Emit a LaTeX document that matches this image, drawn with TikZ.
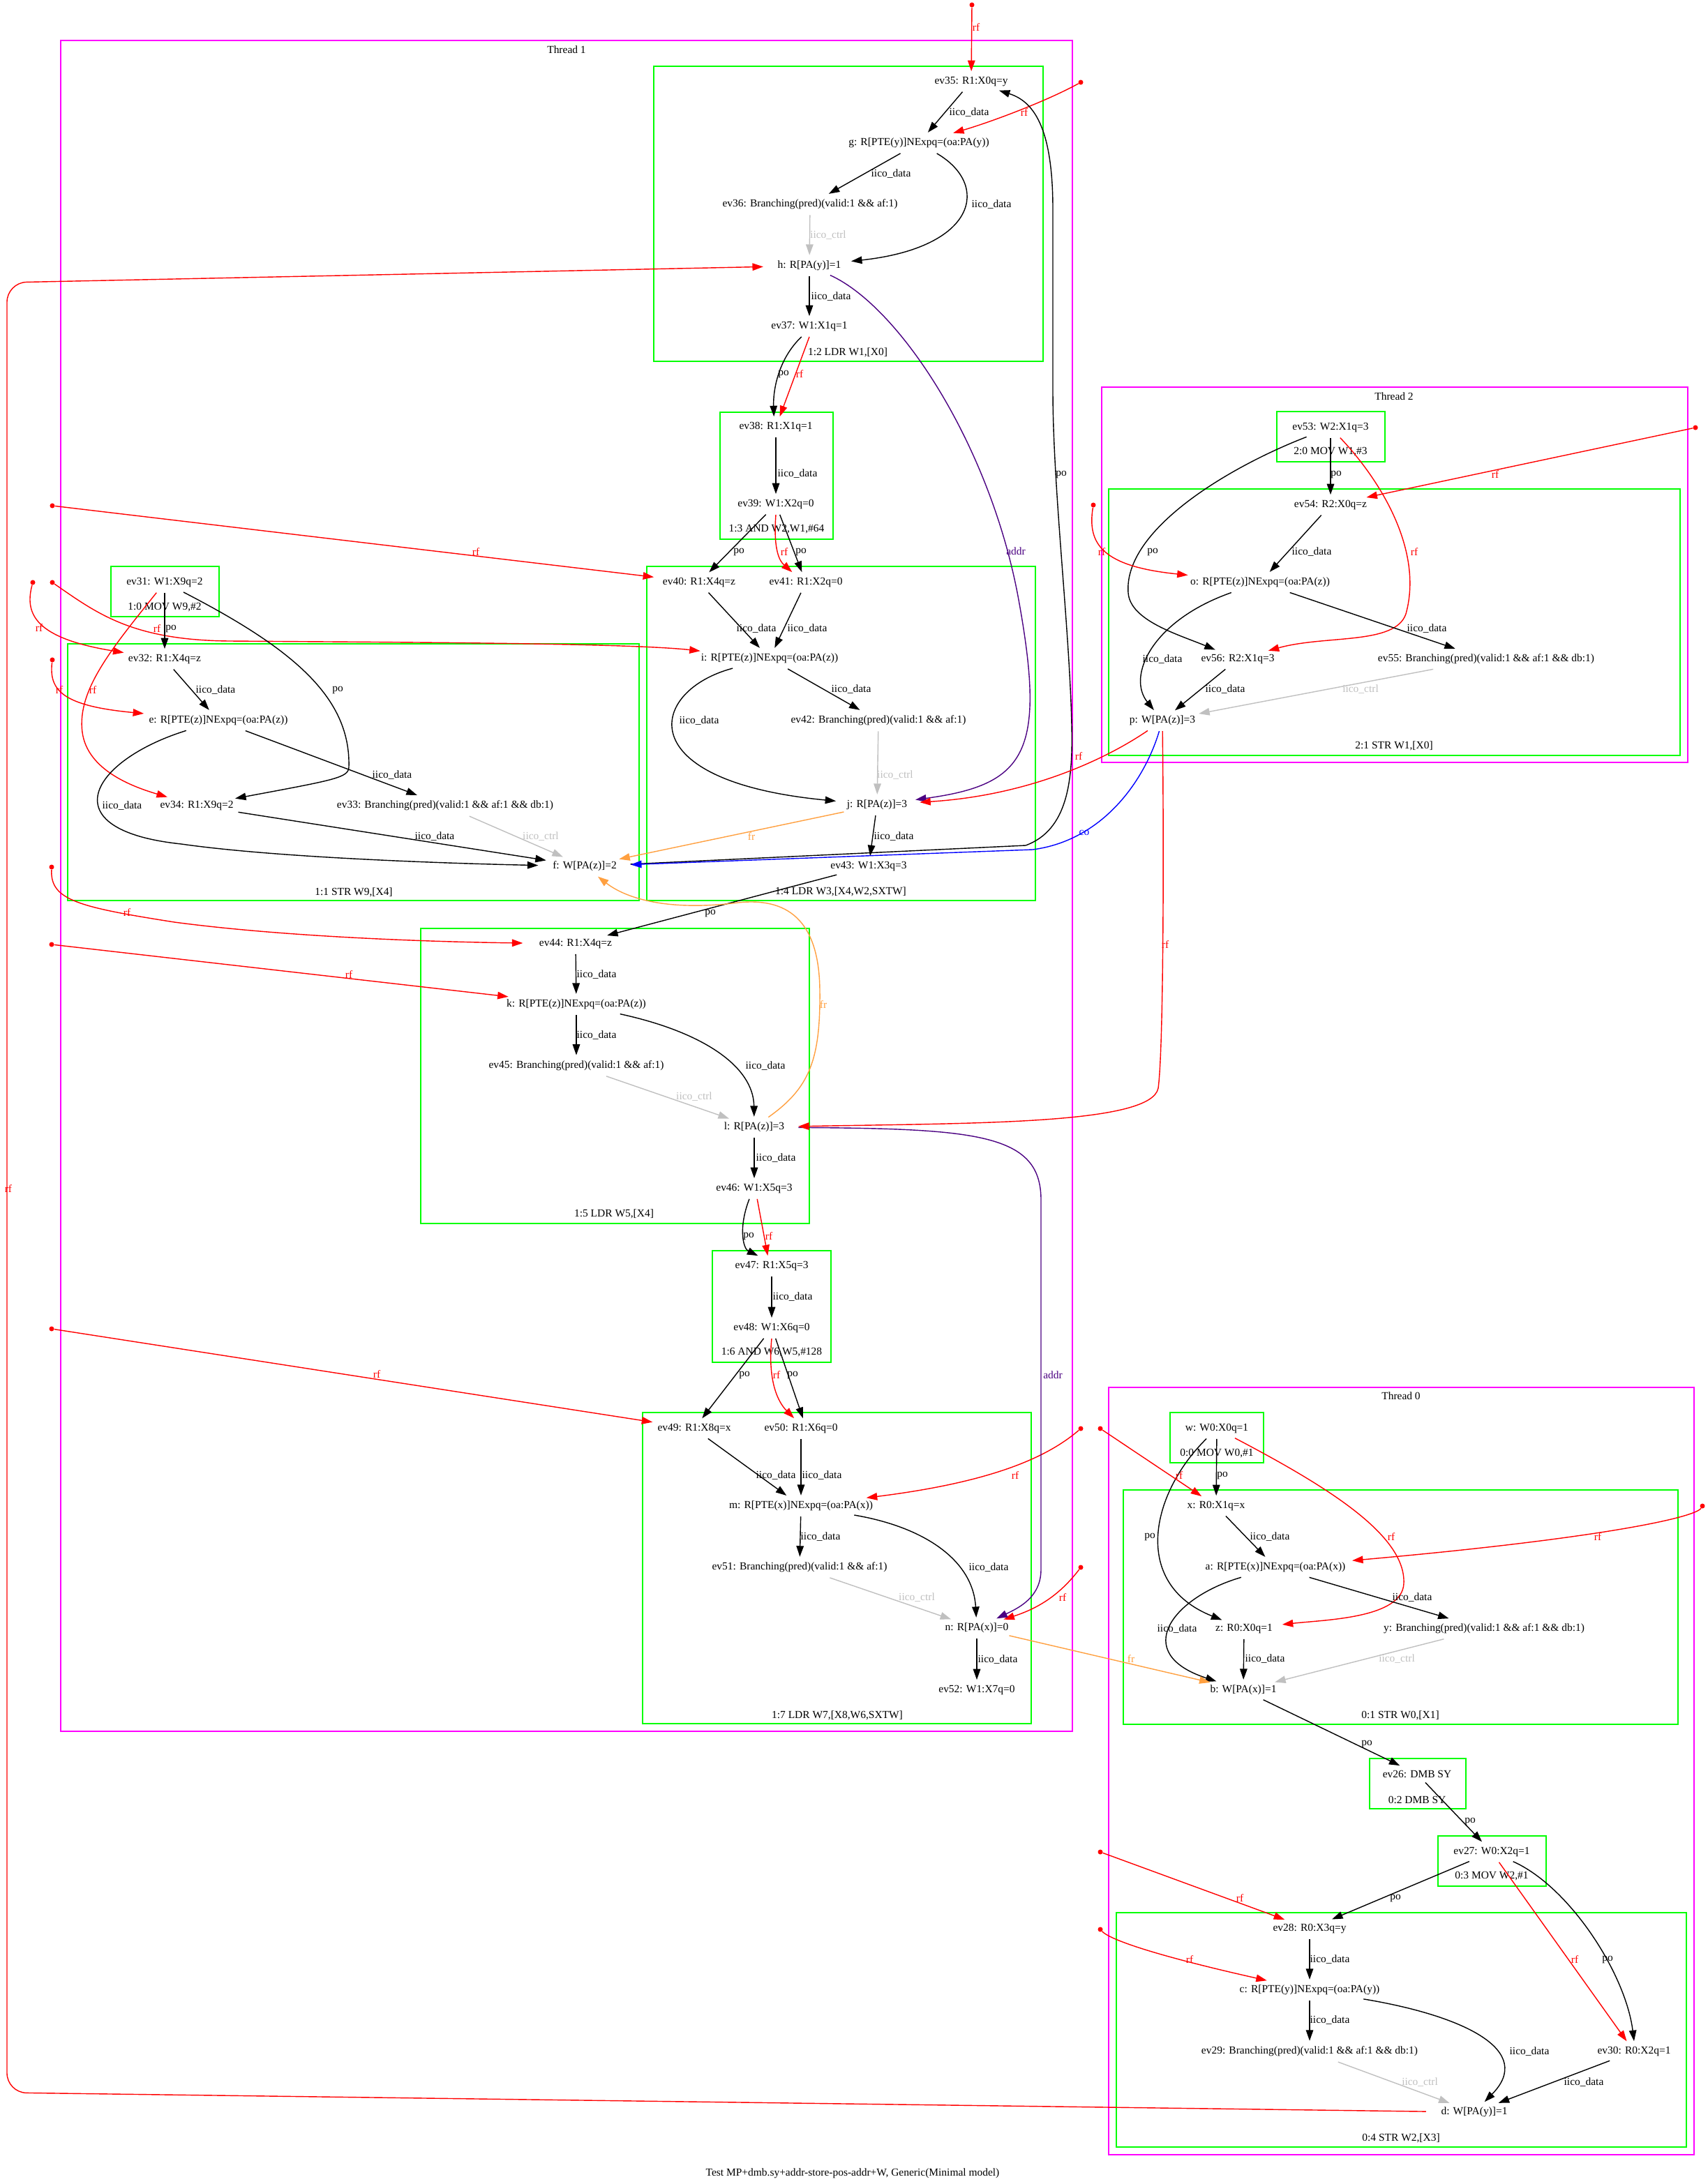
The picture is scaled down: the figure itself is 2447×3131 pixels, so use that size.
\documentclass[tikz,border=0pt]{standalone}
\usepackage{fontspec}
\setmainfont{Liberation Serif}
\usetikzlibrary{shapes.geometric, arrows.meta, calc}
\definecolor{instrgreen}{RGB}{0,255,0}
\definecolor{threadpink}{RGB}{255,0,255}
\definecolor{ctrlgray}{RGB}{192,192,192}
\definecolor{frorange}{RGB}{255,160,64}
\definecolor{addrpurple}{RGB}{75,0,130}
\begin{document}
\begin{tikzpicture}[x=0.025cm, y=-0.025cm,
  ev/.style={ellipse, inner xsep=1pt, inner ysep=2.5pt, font=\fontsize{11}{13}\selectfont},
  instr/.style={draw=instrgreen, line width=1pt},
  thread/.style={draw=threadpink, line width=1pt},
  tag/.style={font=\fontsize{11}{13}\selectfont, inner sep=0pt},
  arrow/.style={-{Triangle[length=11pt, width=7.5pt]}, line width=1pt},
  iico/.style={arrow, black},
  ctrl/.style={arrow, ctrlgray},
  po/.style={arrow, black},
  rf/.style={arrow, red},
  fr/.style={arrow, frorange},
  addr/.style={arrow, addrpurple},
  co/.style={arrow, blue},
  lbl/.style={font=\fontsize{11}{13}\selectfont, inner sep=0pt},
  src/.style={circle, fill=red, inner sep=0pt, minimum size=5pt}
]
  \useasboundingbox (0,0) rectangle (2447,3131);
  \fill[white] (0,0) rectangle (2447,3131);

  % Thread frames
  \draw[thread] (87,58) rectangle (1537,2482);
  \node[tag] (t1) at (812,71) {Thread 1};
  \draw[thread] (1579,555) rectangle (2419,1093);
  \node[tag] (t2) at (1998,568) {Thread 2};
  \draw[thread] (1589,1989) rectangle (2428,3089);
  \node[tag] (t0) at (2008,2001) {Thread 0};

  % Instruction boxes
  \draw[instr] (159,812) rectangle (314,884);    \node[tag] (i10) at (236,871) {1:0 MOV W9,\#2};
  \draw[instr] (97,923) rectangle (916,1291);    \node[tag] (i11) at (507,1279) {1:1 STR W9,[X4]};
  \draw[instr] (937,95) rectangle (1495,518);    \node[tag] (i12) at (1215,505) {1:2 LDR W1,[X0]};
  \draw[instr] (1032,591) rectangle (1194,773);  \node[tag] (i13) at (1113,759) {1:3 AND W2,W1,\#64};
  \draw[instr] (927,812) rectangle (1484,1291);  \node[tag] (i14) at (1205,1278) {1:4 LDR W3,[X4,W2,SXTW]};
  \draw[instr] (603,1331) rectangle (1160,1754); \node[tag] (i15) at (880,1740) {1:5 LDR W5,[X4]};
  \draw[instr] (1021,1793) rectangle (1191,1953); \node[tag] (i16) at (1106,1939) {1:6 AND W6,W5,\#128};
  \draw[instr] (921,2025) rectangle (1478,2471); \node[tag] (i17) at (1200,2459) {1:7 LDR W7,[X8,W6,SXTW]};
  \draw[instr] (1830,590) rectangle (1985,662);  \node[tag] (i20) at (1907,648) {2:0 MOV W1,\#3};
  \draw[instr] (1589,701) rectangle (2408,1083); \node[tag] (i21) at (1998,1069) {2:1 STR W1,[X0]};
  \draw[instr] (1677,2025) rectangle (1811,2097); \node[tag] (i00) at (1744,2084) {0:0 MOV W0,\#1};
  \draw[instr] (1610,2136) rectangle (2405,2472); \node[tag] (i01) at (2007,2459) {0:1 STR W0,[X1]};
  \draw[instr] (1963,2521) rectangle (2101,2593); \node[tag] (i02) at (2031,2580) {0:2 DMB SY};
  \draw[instr] (2061,2632) rectangle (2216,2704); \node[tag] (i03) at (2138,2690) {0:3 MOV W2,\#1};
  \draw[instr] (1600,2742) rectangle (2417,3078); \node[tag] (i04) at (2008,3065) {0:4 STR W2,[X3]};

  % Thread 1 events
  \node[ev] (ev31) at (236,835) {ev31: W1:X9q=2};
  \node[ev] (ev32) at (236,945) {ev32: R1:X4q=z};
  \node[ev] (e) at (313,1033) {e: R[PTE(z)]NExpq=(oa:PA(z))};
  \node[ev] (ev34) at (282,1155) {ev34: R1:X9q=2};
  \node[ev] (ev33) at (638,1155) {ev33: Branching(pred)(valid:1 \&\& af:1 \&\& db:1)};
  \node[ev] (f) at (838,1242) {f: W[PA(z)]=2};
  \node[ev] (ev35) at (1392,117) {ev35: R1:X0q=y};
  \node[ev] (g) at (1317,205) {g: R[PTE(y)]NExpq=(oa:PA(y))};
  \node[ev] (ev36) at (1161,293) {ev36: Branching(pred)(valid:1 \&\& af:1)};
  \node[ev] (h) at (1160,381) {h: R[PA(y)]=1};
  \node[ev] (ev37) at (1160,468) {ev37: W1:X1q=1};
  \node[ev] (ev38) at (1112,612) {ev38: R1:X1q=1};
  \node[ev] (ev39) at (1112,723) {ev39: W1:X2q=0};
  \node[ev] (ev40) at (1002,835) {ev40: R1:X4q=z};
  \node[ev] (ev41) at (1155,835) {ev41: R1:X2q=0};
  \node[ev] (i) at (1103,944) {i: R[PTE(z)]NExpq=(oa:PA(z))};
  \node[ev] (ev42) at (1259,1033) {ev42: Branching(pred)(valid:1 \&\& af:1)};
  \node[ev] (j) at (1257,1154) {j: R[PA(z)]=3};
  \node[ev] (ev43) at (1245,1242) {ev43: W1:X3q=3};
  \node[ev] (ev44) at (825,1353) {ev44: R1:X4q=z};
  \node[ev] (k) at (826,1440) {k: R[PTE(z)]NExpq=(oa:PA(z))};
  \node[ev] (ev45) at (826,1528) {ev45: Branching(pred)(valid:1 \&\& af:1)};
  \node[ev] (l) at (1081,1616) {l: R[PA(z)]=3};
  \node[ev] (ev46) at (1081,1704) {ev46: W1:X5q=3};
  \node[ev] (ev47) at (1106,1815) {ev47: R1:X5q=3};
  \node[ev] (ev48) at (1106,1904) {ev48: W1:X6q=0};
  \node[ev] (ev49) at (995,2048) {ev49: R1:X8q=x};
  \node[ev] (ev50) at (1148,2048) {ev50: R1:X6q=0};
  \node[ev] (m) at (1148,2159) {m: R[PTE(x)]NExpq=(oa:PA(x))};
  \node[ev] (ev51) at (1146,2247) {ev51: Branching(pred)(valid:1 \&\& af:1)};
  \node[ev] (n) at (1400,2334) {n: R[PA(x)]=0};
  \node[ev] (ev52) at (1400,2423) {ev52: W1:X7q=0};

  % Thread 2 events
  \node[ev] (ev53) at (1907,613) {ev53: W2:X1q=3};
  \node[ev] (ev54) at (1907,724) {ev54: R2:X0q=z};
  \node[ev] (o) at (1806,835) {o: R[PTE(z)]NExpq=(oa:PA(z))};
  \node[ev] (ev56) at (1774,945) {ev56: R2:X1q=3};
  \node[ev] (ev55) at (2130,945) {ev55: Branching(pred)(valid:1 \&\& af:1 \&\& db:1)};
  \node[ev] (p) at (1666,1033) {p: W[PA(z)]=3};

  % Thread 0 events
  \node[ev] (w) at (1744,2048) {w: W0:X0q=1};
  \node[ev] (x) at (1743,2159) {x: R0:X1q=x};
  \node[ev] (a) at (1828,2247) {a: R[PTE(x)]NExpq=(oa:PA(x))};
  \node[ev] (z) at (1783,2335) {z: R0:X0q=1};
  \node[ev] (y) at (2127,2335) {y: Branching(pred)(valid:1 \&\& af:1 \&\& db:1)};
  \node[ev] (b) at (1782,2423) {b: W[PA(x)]=1};
  \node[ev] (ev26) at (2031,2543) {ev26: DMB SY};
  \node[ev] (ev27) at (2138,2655) {ev27: W0:X2q=1};
  \node[ev] (ev28) at (1877,2765) {ev28: R0:X3q=y};
  \node[ev] (c) at (1877,2853) {c: R[PTE(y)]NExpq=(oa:PA(y))};
  \node[ev] (ev29) at (1877,2941) {ev29: Branching(pred)(valid:1 \&\& af:1 \&\& db:1)};
  \node[ev] (ev30) at (2342,2941) {ev30: R0:X2q=1};
  \node[ev] (d) at (2113,3028) {d: W[PA(y)]=1};

  % Initial-write sources
  \node[src] (s1) at (1393,7) {};
  \node[src] (s2) at (1549,118) {};
  \node[src] (s3) at (75,725) {};
  \node[src] (s4) at (47,835) {};
  \node[src] (s5) at (75,835) {};
  \node[src] (s6) at (75,946) {};
  \node[src] (s7) at (74,1243) {};
  \node[src] (s8) at (74,1354) {};
  \node[src] (s9) at (74,1905) {};
  \node[src] (s10) at (2430,613) {};
  \node[src] (s11) at (1567,724) {};
  \node[src] (s12) at (1549,2048) {};
  \node[src] (s13) at (1549,2247) {};
  \node[src] (s14) at (1577,2048) {};
  \node[src] (s15) at (2440,2159) {};
  \node[src] (s16) at (1577,2655) {};
  \node[src] (s17) at (1577,2766) {};

  % Thread 1, upper part
  \draw[rf] (s1) -- (ev35) node[lbl] at (1399,39) {rf};
  \draw[rf] (s2) .. controls (1500,145) and (1420,175) .. (g) node[lbl] at (1468,161) {rf};
  \draw[iico] (ev35) -- (g) node[lbl] at (1389,161) {iico\_data};
  \draw[iico] (g) -- (ev36) node[lbl] at (1277,249) {iico\_data};
  \draw[iico] (g) .. controls (1420,265) and (1400,355) .. (h) node[lbl] at (1421,293) {iico\_data};
  \draw[ctrl] (ev36) -- (h) node[lbl] at (1187,337) {iico\_ctrl};
  \draw[iico] (h) -- (ev37) node[lbl] at (1191,425) {iico\_data};
  \draw[po] ([xshift=-8pt]ev37.south) .. controls (1115,515) and (1108,560) .. ([xshift=-2pt]ev38.north) node[lbl] at (1123,536) {po};
  \draw[rf] (ev37.south) -- ([xshift=4pt]ev38.north) node[lbl] at (1146,536) {rf};
  \draw[iico] (ev38) -- (ev39) node[lbl] at (1143,679) {iico\_data};
  \draw[po] (ev39) -- (ev40) node[lbl] at (1059,791) {po};
  \draw[rf] (ev39.south) .. controls (1108,790) and (1118,805) .. ([xshift=-14pt]ev41.north) node[lbl] at (1124,791) {rf};
  \draw[po] (ev39) -- (ev41) node[lbl] at (1148,791) {po};
  \draw[rf] (s3) -- (ev40) node[lbl] at (682,791) {rf};
  \draw[rf] (s5) .. controls (140,880) and (190,918) .. (330,919) .. controls (600,921) and (900,922) .. (i) node[lbl] at (225,901) {rf};
  \draw[iico] (ev40) -- (i) node[lbl] at (1084,901) {iico\_data};
  \draw[iico] (ev41) -- (i) node[lbl] at (1157,901) {iico\_data};
  \draw[iico] (i) -- (ev42) node[lbl] at (1220,988) {iico\_data};
  \draw[iico] (i) .. controls (930,990) and (900,1120) .. (j) node[lbl] at (1002,1033) {iico\_data};
  \draw[ctrl] (ev42) -- (j) node[lbl] at (1283,1111) {iico\_ctrl};
  \draw[iico] (j) -- (ev43) node[lbl] at (1281,1199) {iico\_data};
  \draw[fr] (j) -- (f) node[lbl] at (1077,1199) {fr};
  \draw[addr] (h) .. controls (1290,440) and (1420,640) .. (1460,860) .. controls (1500,1080) and (1470,1125) .. (j) node[lbl] at (1456,790) {addr};
  \draw[po] (f) -- (1470,1212) .. controls (1530,1190) and (1538,1120) .. (1536,1040) .. controls (1533,900) and (1509,700) .. (1509,560) -- (1509,300) .. controls (1509,180) and (1480,145) .. (ev35) node[lbl] at (1521,680) {po};

  % Thread 1, left part
  \draw[po] (ev31) -- (ev32) node[lbl] at (245,901) {po};
  \draw[po] (ev31) .. controls (420,930) and (503,1000) .. (500,1100) .. controls (499,1115) and (480,1118) .. (ev34) node[lbl] at (484,989) {po};
  \draw[rf] (ev31) .. controls (160,930) and (110,990) .. (118,1050) .. controls (125,1100) and (180,1125) .. (ev34) node[lbl] at (133,989) {rf};
  \draw[rf] (s4) .. controls (35,880) and (50,915) .. (ev32) node[lbl] at (56,900) {rf};
  \draw[rf] (s6) .. controls (70,990) and (90,1012) .. (e) node[lbl] at (85,989) {rf};
  \draw[iico] (ev32) -- (e) node[lbl] at (309,989) {iico\_data};
  \draw[iico] (e) -- (ev33) node[lbl] at (562,1111) {iico\_data};
  \draw[iico] (e) .. controls (130,1090) and (70,1190) .. (260,1210) .. controls (400,1230) and (650,1238) .. (f) node[lbl] at (175,1155) {iico\_data};
  \draw[iico] (ev34) -- (f) node[lbl] at (623,1199) {iico\_data};
  \draw[ctrl] (ev33) -- (f) node[lbl] at (775,1199) {iico\_ctrl};

  % Thread 1, lower part
  \draw[po] (ev43) -- (ev44) node[lbl] at (1018,1309) {po};
  \draw[rf] (s7) .. controls (72,1290) and (110,1300) .. (250,1322) .. controls (400,1342) and (600,1350) .. (ev44) node[lbl] at (182,1308) {rf};
  \draw[rf] (s8) -- (k) node[lbl] at (500,1397) {rf};
  \draw[iico] (ev44) -- (k) node[lbl] at (855,1397) {iico\_data};
  \draw[iico] (k) -- (ev45) node[lbl] at (855,1484) {iico\_data};
  \draw[iico] (k) .. controls (1010,1480) and (1080,1530) .. (l) node[lbl] at (1097,1528) {iico\_data};
  \draw[ctrl] (ev45) -- (l) node[lbl] at (995,1572) {iico\_ctrl};
  \draw[iico] (l) -- (ev46) node[lbl] at (1112,1660) {iico\_data};
  \draw[fr] (l) .. controls (1160,1560) and (1176,1520) .. (1175,1420) .. controls (1174,1310) and (1120,1285) .. (1050,1295) .. controls (960,1305) and (900,1290) .. (f) node[lbl] at (1180,1440) {fr};
  \draw[po] ([xshift=-5pt]ev46.south) .. controls (1058,1760) and (1065,1790) .. ([xshift=-14pt]ev47.north) node[lbl] at (1073,1772) {po};
  \draw[rf] ([xshift=3pt]ev46.south) -- ([xshift=-4pt]ev47.north) node[lbl] at (1102,1772) {rf};
  \draw[iico] (ev47) -- (ev48) node[lbl] at (1136,1859) {iico\_data};
  \draw[po] (ev48) -- (ev49) node[lbl] at (1067,1971) {po};
  \draw[rf] (ev48.south) .. controls (1100,1980) and (1115,2010) .. ([xshift=-7pt]ev50.north) node[lbl] at (1113,1971) {rf};
  \draw[po] ([xshift=4pt]ev48.south) -- ([xshift=2pt]ev50.north) node[lbl] at (1136,1971) {po};
  \draw[rf] (s9) -- (ev49) node[lbl] at (540,1970) {rf};
  \draw[iico] (ev49) -- (m) node[lbl] at (1112,2115) {iico\_data};
  \draw[iico] (ev50) -- (m) node[lbl] at (1178,2115) {iico\_data};
  \draw[iico] (m) -- (ev51) node[lbl] at (1176,2203) {iico\_data};
  \draw[iico] (m) .. controls (1330,2190) and (1395,2240) .. (n) node[lbl] at (1417,2247) {iico\_data};
  \draw[ctrl] (ev51) -- (n) node[lbl] at (1314,2290) {iico\_ctrl};
  \draw[iico] (n) -- (ev52) node[lbl] at (1430,2379) {iico\_data};
  \draw[rf] (s12) .. controls (1500,2090) and (1420,2125) .. (m) node[lbl] at (1455,2115) {rf};
  \draw[rf] (s13) .. controls (1520,2285) and (1490,2305) .. (n) node[lbl] at (1523,2290) {rf};
  \draw[addr] (l) .. controls (1400,1618) and (1492,1625) .. (1492,1720) -- (1492,2250) .. controls (1492,2290) and (1460,2305) .. (n) node[lbl] at (1509,1971) {addr};

  % Thread 2
  \draw[po] (ev53) -- (ev54) node[lbl] at (1915,680) {po};
  \draw[po] (ev53) .. controls (1760,670) and (1610,760) .. (1617,850) .. controls (1620,890) and (1690,910) .. (ev56) node[lbl] at (1652,791) {po};
  \draw[rf] (ev53) .. controls (1980,690) and (2040,790) .. (2015,880) .. controls (2000,925) and (1900,910) .. (ev56) node[lbl] at (2027,791) {rf};
  \draw[rf] (s10) -- (ev54) node[lbl] at (2143,680) {rf};
  \draw[rf] (s11) .. controls (1558,780) and (1580,812) .. (o) node[lbl] at (1579,791) {rf};
  \draw[iico] (ev54) -- (o) node[lbl] at (1880,791) {iico\_data};
  \draw[iico] (o) -- (ev55) node[lbl] at (2045,901) {iico\_data};
  \draw[iico] (o) .. controls (1650,890) and (1615,970) .. (p) node[lbl] at (1666,945) {iico\_data};
  \draw[iico] (ev56) -- (p) node[lbl] at (1756,988) {iico\_data};
  \draw[ctrl] (ev55) -- (p) node[lbl] at (1950,988) {iico\_ctrl};
  \draw[rf] (p) .. controls (1590,1085) and (1480,1140) .. (j) node[lbl] at (1546,1084) {rf};
  \draw[co] (p) .. controls (1640,1120) and (1580,1205) .. (1480,1218) -- (f) node[lbl] at (1554,1194) {co};
  \draw[rf] (p) .. controls (1668,1200) and (1668,1500) .. (1660,1560) .. controls (1650,1612) and (1400,1610) .. (l) node[lbl] at (1670,1354) {rf};

  % Thread 0
  \draw[po] (w) -- (x) node[lbl] at (1752,2115) {po};
  \draw[po] (w) .. controls (1650,2140) and (1620,2270) .. (z) node[lbl] at (1648,2203) {po};
  \draw[rf] (w) .. controls (1900,2130) and (2015,2200) .. (2012,2270) .. controls (2010,2320) and (1900,2322) .. (z) node[lbl] at (1994,2203) {rf};
  \draw[rf] (s14) -- (x) node[lbl] at (1690,2115) {rf};
  \draw[rf] (s15) .. controls (2430,2175) and (2300,2205) .. (a) node[lbl] at (2290,2203) {rf};
  \draw[iico] (x) -- (a) node[lbl] at (1820,2203) {iico\_data};
  \draw[iico] (a) -- (y) node[lbl] at (2024,2290) {iico\_data};
  \draw[iico] (a) .. controls (1680,2290) and (1620,2370) .. (b) node[lbl] at (1687,2335) {iico\_data};
  \draw[iico] (z) -- (b) node[lbl] at (1813,2378) {iico\_data};
  \draw[ctrl] (y) -- (b) node[lbl] at (2002,2378) {iico\_ctrl};
  \draw[fr] (n) -- (b) node[lbl] at (1621,2378) {fr};
  \draw[po] (b) -- (ev26) node[lbl] at (1959,2500) {po};
  \draw[po] (ev26) -- (ev27) node[lbl] at (2107,2611) {po};
  \draw[po] (ev27) -- (ev28) node[lbl] at (2000,2721) {po};
  \draw[rf] (ev27) -- (ev30) node[lbl] at (2257,2809) {rf};
  \draw[po] (ev27) .. controls (2250,2705) and (2330,2830) .. (ev30.north) node[lbl] at (2304,2809) {po};
  \draw[rf] (s16) -- (ev28) node[lbl] at (1777,2721) {rf};
  \draw[rf] (s17) .. controls (1590,2780) and (1650,2802) .. (c) node[lbl] at (1705,2809) {rf};
  \draw[iico] (ev28) -- (c) node[lbl] at (1906,2809) {iico\_data};
  \draw[iico] (c) -- (ev29) node[lbl] at (1906,2896) {iico\_data};
  \draw[iico] (c) .. controls (2100,2890) and (2200,2940) .. (d) node[lbl] at (2192,2941) {iico\_data};
  \draw[iico] (ev30) -- (d) node[lbl] at (2270,2985) {iico\_data};
  \draw[ctrl] (ev29) -- (d) node[lbl] at (2035,2985) {iico\_ctrl};
  \draw[rf, rounded corners=20pt] (d) -- (10,3000) -- (10,405) -- (h) node[lbl] at (12,1704) {rf};

  % Caption
  \node[tag] (title) at (1222,3116) {Test MP+dmb.sy+addr-store-pos-addr+W, Generic(Minimal model)};
\end{tikzpicture}
\end{document}
